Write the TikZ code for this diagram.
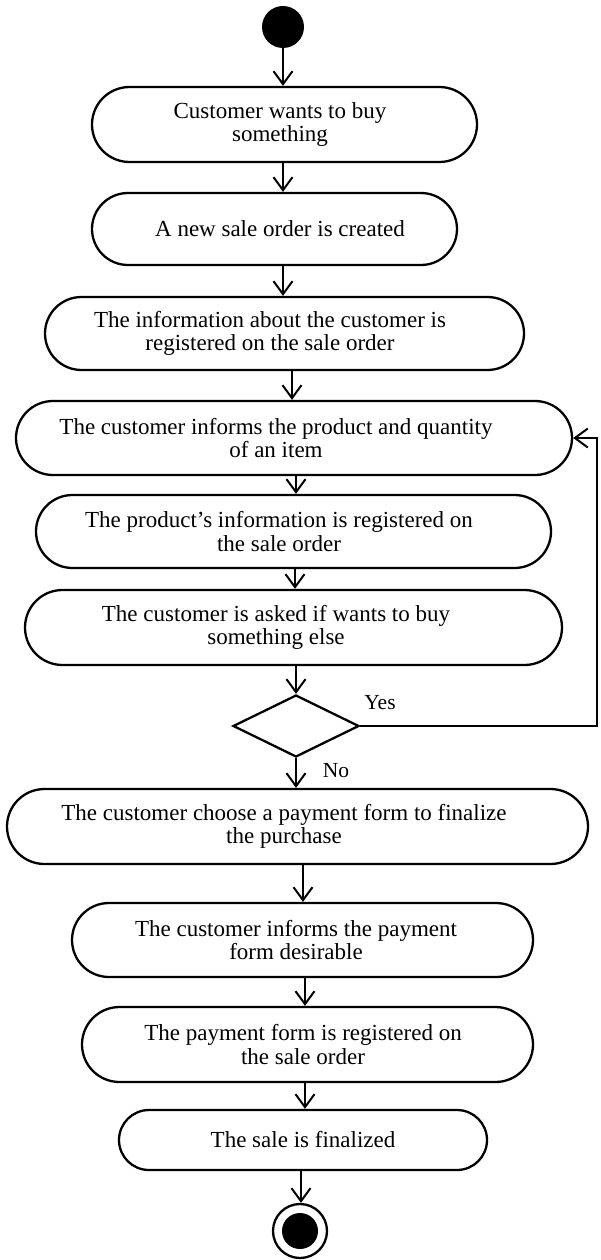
\documentclass[tikz,border=0pt]{standalone}
\usepackage{fontspec}
\setmainfont{Liberation Serif}
\usetikzlibrary{shapes.misc,shapes.geometric,arrows.meta}
\begin{document}
\begin{tikzpicture}[x=1pt,y=-1pt,
  act/.style={draw,line width=2.3pt,rounded rectangle,rounded rectangle arc length=180,inner sep=0pt},
  txt/.style={align=center,font=\fontsize{23}{23.5}\selectfont,inner sep=0pt},
  arr/.style={line width=2.3pt,-{Straight Barb[length=13pt,width=19pt,line width=2pt]}},
  lbl/.style={font=\fontsize{21.5}{21.5}\selectfont,inner sep=0pt}]
\useasboundingbox (0,0) rectangle (600,1260);
% start
\node[fill,circle,minimum size=42pt,inner sep=0pt] (start) at (283,27) {};
% activities
\node[act,minimum width=385pt,minimum height=75pt] (b1) at (284.5,124.5) {};
\node[txt] (t1) at (280,124.5) {Customer wants to buy\\something};
\node[act,minimum width=365pt,minimum height=72pt] (b2) at (274.5,229) {};
\node[txt] (t2) at (280,229) {A new sale order is created};
\node[act,minimum width=479pt,minimum height=73pt] (b3) at (284.5,333.5) {};
\node[txt] (t3) at (270,333.5) {The information about the customer is\\registered on the sale order};
\node[act,minimum width=556pt,minimum height=74pt] (b4) at (294,438) {};
\node[txt] (t4) at (276,438) {The customer informs the product and quantity\\of an item};
\node[act,minimum width=515pt,minimum height=73pt] (b5) at (293.5,531.5) {};
\node[txt] (t5) at (279,531.5) {The product’s information is registered on\\the sale order};
\node[act,minimum width=537pt,minimum height=75pt] (b6) at (293.5,627.5) {};
\node[txt] (t6) at (276,627.5) {The customer is asked if wants to buy\\something else};
\node[draw,diamond,line width=2.3pt,minimum width=126pt,minimum height=62pt,inner sep=0pt] (dia) at (296,726) {};
\node[act,minimum width=581pt,minimum height=75pt] (b7) at (297.5,826.5) {};
\node[txt] (t7) at (284,826.5) {The customer choose a payment form to finalize\\the purchase};
\node[act,minimum width=461pt,minimum height=74pt] (b8) at (302.5,940) {};
\node[txt] (t8) at (296,940) {The customer informs the payment\\form desirable};
\node[act,minimum width=451pt,minimum height=75pt] (b9) at (307.5,1044.5) {};
\node[txt] (t9) at (303,1044.5) {The payment form is registered on\\the sale order};
\node[act,minimum width=368pt,minimum height=60pt] (b10) at (303,1140) {};
\node[txt] (t10) at (303,1140) {The sale is finalized};
% end
\node[draw,circle,line width=2.3pt,minimum size=54pt,inner sep=0pt] (endo) at (300,1231) {};
\node[fill,circle,minimum size=36pt,inner sep=0pt] (endi) at (endo) {};
% labels
\node[lbl] (yes) at (380,703) {Yes};
\node[lbl] (no) at (336,771) {No};
% arrow columns
\coordinate (a1) at (283,0);
\coordinate (a3) at (283,0);
\coordinate (a4) at (292,0);
\coordinate (a5) at (296,0);
\coordinate (a6) at (295,0);
\coordinate (a8) at (303,0);
\coordinate (a9) at (305,0);
\coordinate (a11) at (301,0);
\coordinate (loopx) at (597,0);
% connectors
\draw[arr] (start.south -| a1) -- (b1.north -| a1);
\draw[arr] (b1.south -| a1) -- (b2.north -| a1);
\draw[arr] (b2.south -| a3) -- (b3.north -| a3);
\draw[arr] (b3.south -| a4) -- (b4.north -| a4);
\draw[arr] (b4.south -| a5) -- (b5.north -| a5);
\draw[arr] (b5.south -| a6) -- (b6.north -| a6);
\draw[arr] (b6.south -| dia.north) -- (dia.north);
\draw[arr] (dia.south) -- (b7.north -| dia.south);
\draw[arr] (b7.south -| a8) -- (b8.north -| a8);
\draw[arr] (b8.south -| a9) -- (b9.north -| a9);
\draw[arr] (b9.south -| a9) -- (b10.north -| a9);
\draw[arr] (b10.south -| a11) -- (endo.north -| a11);
\draw[arr] (dia.east) -- (dia.east -| loopx) -- (b4.east -| loopx) -- (b4.east);
\end{tikzpicture}
\end{document}
